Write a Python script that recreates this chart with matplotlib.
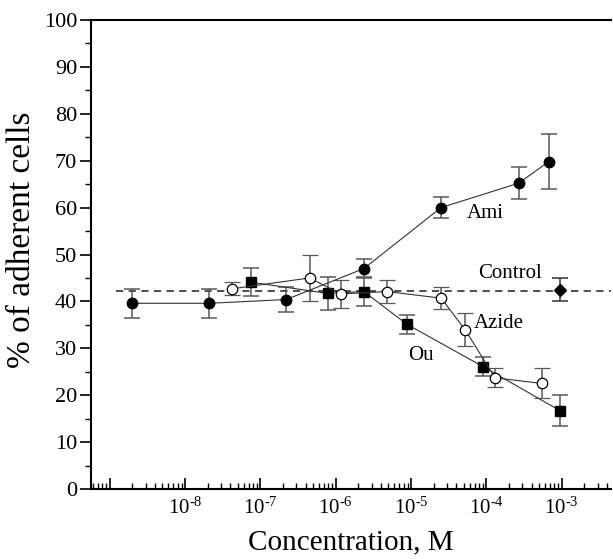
import numpy as np
import matplotlib
matplotlib.use('Agg')
import matplotlib.pyplot as plt
from matplotlib.ticker import MultipleLocator, LogLocator, NullFormatter

plt.rcParams['font.family'] = ['Liberation Serif', 'DejaVu Serif']
plt.rcParams['mathtext.fontset'] = 'custom'
plt.rcParams['mathtext.rm'] = 'Liberation Serif'
plt.rcParams['mathtext.it'] = 'Liberation Serif:italic'

# Ami (filled circles)
ami_x = [1.96e-9, 2.1e-8, 2.2e-7, 2.36e-6, 2.5e-5, 2.67e-4, 6.7e-4]
ami_y = [39.6, 39.6, 40.4, 47.0, 60.0, 65.2, 69.8]
ami_err = [3.1, 3.1, 2.7, 2.0, 2.2, 3.4, 5.9]

# Ou (filled squares)
ou_x = [7.5e-8, 7.85e-7, 2.36e-6, 8.85e-6, 9.0e-5, 9.5e-4]
ou_y = [44.1, 41.7, 42.1, 35.1, 26.1, 16.7]
ou_err = [3.0, 3.5, 3.0, 2.0, 2.0, 3.3]

# Azide (open circles)
azide_x = [4.25e-8, 4.5e-7, 1.17e-6, 4.77e-6, 2.5e-5, 5.2e-5, 1.3e-4, 5.5e-4]
azide_y = [42.7, 45.0, 41.6, 42.1, 40.7, 34.0, 23.7, 22.5]
azide_err = [1.4, 5.0, 3.0, 2.5, 2.4, 3.6, 2.0, 3.2]

# Control
control_x = [9.5e-4]
control_y = [42.5]
control_err = [2.4]
control_level = 42.2
control_line_x = [1.21e-9, 4.5e-3]

xtick_vals = [1e-9, 1e-8, 1e-7, 1e-6, 1e-5, 1e-4, 1e-3]
xtick_labels = ['', r'$10^{\text{-8}}$', r'$10^{\text{-7}}$', r'$10^{\text{-6}}$',
                r'$10^{\text{-5}}$', r'$10^{\text{-4}}$', r'$10^{\text{-3}}$']

fig = plt.figure(figsize=(6.13, 5.59), dpi=100)
ax = fig.add_axes([0.1485, 0.1252, 0.848, 0.839])

ebkw = dict(ecolor='0.35', elinewidth=1.1, capsize=6, capthick=1.1, color='0.2', lw=0.8)
ax.errorbar(ami_x, ami_y, yerr=ami_err, marker='o', ms=7.5, mfc='black', mec='black', **ebkw)
ax.errorbar(ou_x, ou_y, yerr=ou_err, marker='s', ms=6.5, mfc='black', mec='black', **ebkw)
ax.errorbar(azide_x, azide_y, yerr=azide_err, marker='o', ms=7.5, mfc='white', mec='black', mew=0.9, **ebkw)
ax.errorbar(control_x, control_y, yerr=control_err, marker='D', ms=6, mfc='black', mec='black',
            ls='none', ecolor='0.2', elinewidth=1.1, capsize=6, capthick=1.1)
ax.plot(control_line_x, [control_level, control_level], ls=(0, (4, 3)), color='0.25', lw=1.3, zorder=0)

ax.text(9.6e-5, 58.8, 'Ami', fontsize=15, ha='center', va='center')
ax.text(2.07e-4, 45.9, 'Control', fontsize=15, ha='center', va='center')
ax.text(1.48e-4, 35.3, 'Azide', fontsize=15, ha='center', va='center')
ax.text(1.36e-5, 28.4, 'Ou', fontsize=15, ha='center', va='center')

ax.set_xscale('log')
ax.set_xlim(5.65e-10, 4.48e-3)
ax.set_ylim(0, 100)

ax.set_xticks(xtick_vals)
ax.set_xticklabels(xtick_labels)
ax.xaxis.set_minor_locator(LogLocator(base=10, subs=np.arange(2, 10), numticks=20))
ax.xaxis.set_minor_formatter(NullFormatter())
ax.yaxis.set_major_locator(MultipleLocator(10))
ax.yaxis.set_minor_locator(MultipleLocator(5))

ax.tick_params(axis='x', which='major', direction='in', length=8, width=1.2, labelsize=15, pad=6)
ax.tick_params(axis='x', which='minor', direction='in', length=4, width=1.0)
ax.tick_params(axis='y', which='major', direction='out', length=8, width=1.2, labelsize=16, pad=2)
ax.tick_params(axis='y', which='minor', direction='out', length=4, width=1.0)

ax.spines['right'].set_visible(False)
for s in ['left', 'bottom', 'top']:
    ax.spines[s].set_linewidth(1.5)

ax.set_xlabel('Concentration, M', fontsize=21, labelpad=8)
ax.set_ylabel('% of adherent cells', fontsize=24)
ax.yaxis.set_label_coords(-0.104, 0.531)

fig.savefig('out.png', dpi=100)
